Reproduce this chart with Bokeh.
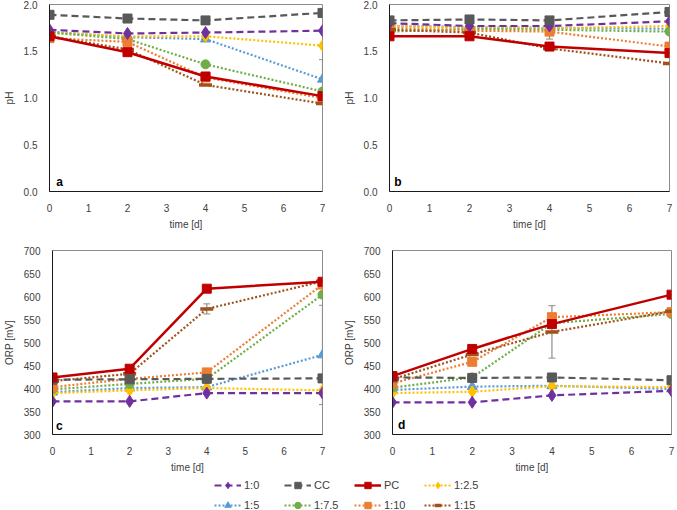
from bokeh.plotting import figure
from bokeh.models import (Range1d, ColumnDataSource, Whisker, Label, Legend,
                          LegendItem, FixedTicker)
from bokeh.layouts import column, row
from bokeh.embed import file_html
from bokeh.resources import INLINE

# sampling days
days = [0, 2, 4, 7]

series = ["1:0", "CC", "PC", "1:2.5", "1:5", "1:7.5", "1:10", "1:15"]
colors = ["#7030A0", "#595959", "#C00000", "#FFC000",
          "#5B9BD5", "#70AD47", "#ED7D31", "#A0521A"]
markers = ["diamond", "square", "square", "diamond",
           "triangle", "circle", "square", "dash"]
dashes = ["7 4", "7 4", "solid", "2 2", "2 2", "2 2", "2 2", "2 2"]

# pH, panel a
ph_a = {
    "1:0":   [1.73, 1.69, 1.70, 1.72],
    "CC":    [1.89, 1.85, 1.83, 1.91],
    "PC":    [1.66, 1.49, 1.23, 1.02],
    "1:2.5": [1.70, 1.66, 1.66, 1.56],
    "1:5":   [1.71, 1.65, 1.63, 1.20],
    "1:7.5": [1.70, 1.63, 1.36, 1.07],
    "1:10":  [1.64, 1.60, 1.22, 1.00],
    "1:15":  [1.66, 1.52, 1.14, 0.94],
}
err_a = {"1:5": [0, 0, 0, 0.21]}

# pH, panel b
ph_b = {
    "1:0":   [1.80, 1.77, 1.77, 1.82],
    "CC":    [1.83, 1.84, 1.83, 1.92],
    "PC":    [1.66, 1.66, 1.55, 1.48],
    "1:2.5": [1.77, 1.75, 1.745, 1.77],
    "1:5":   [1.77, 1.76, 1.75, 1.74],
    "1:7.5": [1.71, 1.74, 1.73, 1.71],
    "1:10":  [1.75, 1.72, 1.71, 1.55],
    "1:15":  [1.73, 1.70, 1.53, 1.37],
}
err_b = {"1:10": [0, 0, 0.08, 0]}

# ORP, panel c
orp_c = {
    "1:0":   [372, 372, 390, 390],
    "CC":    [419, 420, 421, 422],
    "PC":    [424, 443, 617, 632],
    "1:2.5": [390, 396, 401, 396],
    "1:5":   [392, 401, 403, 473],
    "1:7.5": [398, 410, 421, 604],
    "1:10":  [403, 421, 435, 626],
    "1:15":  [416, 432, 573, 633],
}
err_c = {"1:15": [0, 0, 11, 0], "1:5": [0, 0, 0, 108]}

# ORP, panel d
orp_d = {
    "1:0":   [370, 370, 385, 395],
    "CC":    [424, 423, 424, 418],
    "PC":    [427, 486, 540, 604],
    "1:2.5": [390, 393, 405, 403],
    "1:5":   [397, 404, 406, 399],
    "1:7.5": [402, 424, 542, 562],
    "1:10":  [411, 458, 555, 566],
    "1:15":  [420, 474, 523, 568],
}
err_d = {"1:10": [0, 8, 0, 0], "1:15": [0, 0, 57, 0]}

FONT = "Liberation Sans"
TXT = "#404040"
MARKER_SIZE = {"diamond": 12, "square": 9, "triangle": 10, "circle": 9}


def add_series(p, name, ys, i):
    lw = 2.5 if name == "PC" else 2.2
    ln = p.line(days, ys, line_color=colors[i], line_width=lw,
                line_dash=dashes[i])
    if markers[i] == "dash":
        sc = p.scatter(days, ys, marker="dash", size=13,
                       line_color=colors[i], line_width=3.5)
    else:
        sc = p.scatter(days, ys, marker=markers[i],
                       size=MARKER_SIZE[markers[i]],
                       fill_color=colors[i], line_color=colors[i])
    return ln, sc


def panel(data, errs, ylo, yhi, ystep, ylabel, letter, lx, ly,
          width, height, bl, br, bt, bb, fmt):
    p = figure(width=width, height=height, output_backend="svg",
               toolbar_location=None, x_range=Range1d(0, 7),
               y_range=Range1d(ylo, yhi))
    p.min_border_left = bl
    p.min_border_right = br
    p.min_border_top = bt
    p.min_border_bottom = bb
    p.xgrid.visible = False
    p.ygrid.visible = False
    p.outline_line_color = "#8c8c8c"
    p.outline_line_width = 1
    p.background_fill_color = "white"
    p.border_fill_color = "white"

    for ax in (p.xaxis[0], p.yaxis[0]):
        ax.axis_line_color = "#1a1a1a"
        ax.axis_line_width = 1
        ax.major_tick_line_color = None
        ax.minor_tick_line_color = None
        ax.major_label_text_font = FONT
        ax.major_label_text_font_size = "10px"
        ax.major_label_text_color = TXT
        ax.axis_label_text_font = FONT
        ax.axis_label_text_font_size = "10px"
        ax.axis_label_text_font_style = "normal"
        ax.axis_label_text_color = TXT
        ax.major_label_standoff = 6

    p.xaxis.ticker = FixedTicker(ticks=list(range(0, 8)))
    p.xaxis.axis_label = "time [d]"
    p.xaxis.axis_label_standoff = 4
    n = int(round((yhi - ylo) / ystep))
    yt = [ylo + k * ystep for k in range(n + 1)]
    p.yaxis.ticker = FixedTicker(ticks=yt)
    p.yaxis.major_label_overrides = {t: fmt.format(t) for t in yt}
    p.yaxis.axis_label = ylabel
    p.yaxis.axis_label_standoff = 6

    # error bars (standard deviations)
    for name, e in errs.items():
        ys = data[name]
        xs = [d for d, v in zip(days, e) if v]
        lo = [y - v for y, v in zip(ys, e) if v]
        hi = [y + v for y, v in zip(ys, e) if v]
        src = ColumnDataSource(dict(x=xs, lower=lo, upper=hi))
        w = Whisker(source=src, base="x", lower="lower", upper="upper",
                    line_color="#8c8c8c", line_width=1.2)
        w.upper_head.size = 7
        w.lower_head.size = 7
        w.upper_head.line_color = "#8c8c8c"
        w.lower_head.line_color = "#8c8c8c"
        p.add_layout(w)

    order = ["1:5", "1:2.5", "1:7.5", "1:10", "1:15", "1:0", "CC", "PC"]
    for name in order:
        add_series(p, name, data[name], series.index(name))

    p.add_layout(Label(x=lx, y=ly, text=letter, text_font=FONT,
                       text_font_size="12px", text_font_style="bold",
                       text_color="#000000", text_baseline="middle"))
    return p


pa = panel(ph_a, err_a, 0.0, 2.0, 0.5, "pH", "a", 0.17, 0.10,
           340, 232, 42, 18, 4, 37, "{:.1f}")
pb = panel(ph_b, err_b, 0.0, 2.0, 0.5, "pH", "b", 0.12, 0.10,
           337, 232, 47, 8, 4, 37, "{:.1f}")
pc = panel(orp_c, err_c, 300, 700, 50, "ORP [mV]", "c", 0.09, 319,
           340, 243, 42, 18, 18, 33, "{:.0f}")
pd = panel(orp_d, err_d, 300, 700, 50, "ORP [mV]", "d", 0.14, 320,
           337, 243, 49, 6, 18, 33, "{:.0f}")

# shared legend strip: the series renderers sit outside the visible range,
# only their legend glyphs are shown
leg = figure(width=677, height=35, output_backend="svg",
             toolbar_location=None, x_range=Range1d(100, 101),
             y_range=Range1d(0, 1), min_border=0)
leg.xaxis.visible = False
leg.yaxis.visible = False
leg.xgrid.visible = False
leg.ygrid.visible = False
leg.outline_line_color = None

items = []
for i, name in enumerate(series):
    ln, sc = add_series(leg, name, orp_c[name], i)
    items.append(LegendItem(label=name, renderers=[ln, sc]))

legend = Legend(items=items, orientation="horizontal", ncols=4,
                location=(214, -3), padding=0, margin=0, spacing=4,
                glyph_width=27, glyph_height=16, label_height=16,
                label_width=36, label_standoff=3,
                label_text_font=FONT, label_text_font_size="11px",
                label_text_color=TXT, border_line_color=None,
                background_fill_alpha=0)
leg.add_layout(legend)

layout = column(row(pa, pb), row(pc, pd), leg)

open("out.html", "w").write(file_html(layout, INLINE))
